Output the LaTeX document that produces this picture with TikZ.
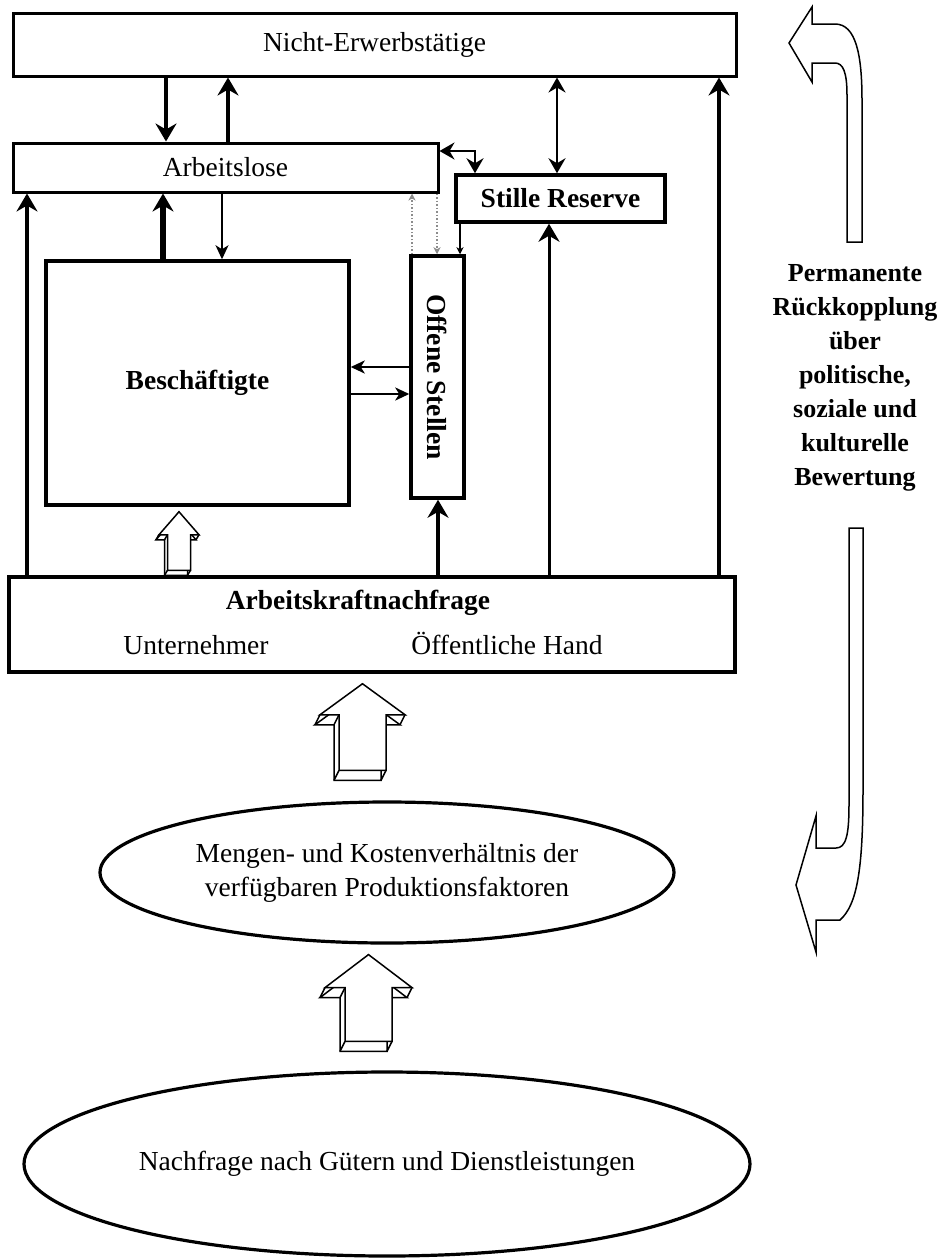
\documentclass[tikz,border=0pt]{standalone}
\usepackage{fontspec}
\setmainfont{Liberation Serif}
\usepackage{graphicx}
\usetikzlibrary{arrows.meta,calc,shapes.geometric}
\tikzset{
  bigtip/.tip={Stealth[length=18pt,width=21pt,inset=6pt]},
  midtip/.tip={Stealth[length=15pt,width=17pt,inset=5pt]},
  smalltip/.tip={Stealth[length=14pt,width=13pt,inset=4pt]},
  tinytip/.tip={Stealth[length=7pt,width=7pt,inset=2pt]}
}
% front face of a block arrow: #1 bottom, #2 tip, #3 half shaft, #4 half head, #5 head depth, #6 offset
\newcommand{\arrowface}[6]{($(#2)+(#6)$) -- ($(#2)+(#6)+(#4,#5)$) -- ($(#2)+(#6)+(#3,#5)$)
  -- ($(#1)+(#6)+(#3,0)$) -- ($(#1)+(#6)+(-#3,0)$) -- ($(#2)+(#6)+(-#3,#5)$) -- ($(#2)+(#6)+(-#4,#5)$) -- cycle}
\newcommand{\blockarrow}[6]{%
  \filldraw[fill=white,line width=1.5pt] \arrowface{#1}{#2}{#3}{#4}{#5}{#6};
  \draw[line width=1.5pt] (#2) -- ++(#6) ($(#2)+(#4,#5)$) -- ++(#6) ($(#2)+(#3,#5)$) -- ++(#6)
    ($(#2)+(-#3,#5)$) -- ++(#6) ($(#2)+(-#4,#5)$) -- ++(#6) ($(#1)+(#3,0)$) -- ++(#6) ($(#1)+(-#3,0)$) -- ++(#6);
  \filldraw[fill=white,line width=1.5pt] \arrowface{#1}{#2}{#3}{#4}{#5}{0,0};
}
\begin{document}
\begin{tikzpicture}[x=1pt,y=-1pt,
  every node/.style={align=center,font=\fontsize{27.5}{34}\selectfont},
  box/.style={draw,line width=3.5pt,inner sep=0pt},
  oval/.style={ellipse,draw,line width=3.2pt,inner sep=0pt},
  fat/.style={line width=4pt,-bigtip},
  mid/.style={line width=2.5pt},
  thin/.style={line width=1.8pt},
  dots/.style={line width=1.5pt,dotted,black!45}]
\useasboundingbox (0,0) rectangle (944,1259);
% Bestaende
\node[box,line width=3pt,minimum width=723pt,minimum height=63pt] (ne) at (374.5,44.5) {Nicht-Erwerbstätige};
\node[box,line width=3pt,minimum width=425pt,minimum height=49pt] (al) at (225.5,167.5) {Arbeitslose};
\node[box,minimum width=209pt,minimum height=47pt,font=\bfseries\fontsize{27.5}{34}\selectfont] (sr) at (560.5,198.5) {Stille Reserve};
\node[box,minimum width=303pt,minimum height=244pt,font=\bfseries\fontsize{27.5}{34}\selectfont] (be) at (197.5,383) {Beschäftigte};
\node[box,minimum width=53pt,minimum height=242pt] (os) at (437.5,377) {\rotatebox{-90}{\bfseries Offene Stellen}};
\node[box,minimum width=726pt,minimum height=95pt] (akn) at (372,624.5) {};
\node[font=\bfseries\fontsize{27.5}{34}\selectfont] (aknT) at (358,603) {Arbeitskraftnachfrage};
\node[anchor=base] (unt) at (196,654) {Unternehmer};
\node[anchor=base] (oeh) at (507,654) {Öffentliche Hand};
\node[oval,minimum width=574pt,minimum height=141pt] (mk) at (387,872.5) {Mengen- und Kostenverhältnis der\\verfügbaren Produktionsfaktoren};
\node[oval,minimum width=726pt,minimum height=184pt] (ng) at (387,1164) {Nachfrage nach Gütern und Dienstleistungen};
\node[font=\bfseries\fontsize{26}{34}\selectfont] (rk) at (855,378) {Permanente\\Rückkopplung\\über\\politische,\\soziale und\\kulturelle\\Bewertung};
% Stroeme
\draw[fat] (ne.south -| 166,0) -- (al.north -| 166,0);
\draw[fat] (al.north -| 228,0) -- (ne.south -| 228,0);
\draw[mid,midtip-midtip] (ne.south -| 557,0) -- (sr.north -| 557,0);
\draw[mid,midtip-midtip] (al.east |- 0,151) -| (sr.north -| 475,0);
\draw[thin,-tinytip] (sr.south -| 460,0) -- (os.north -| 460,0);
\draw[dots,-tinytip] (os.north -| 412,0) -- (al.south -| 412,0);
\draw[dots,-tinytip] (al.south -| 437,0) -- (os.north -| 437,0);
\draw[fat,line width=6pt] (be.north -| 163,0) -- (al.south -| 163,0);
\draw[thin,-smalltip] (al.south -| 222,0) -- (be.north -| 222,0);
\draw[mid,-smalltip] (os.west |- 0,367) -- (be.east |- 0,367);
\draw[mid,-smalltip] (be.east |- 0,394) -- (os.west |- 0,394);
\foreach \x/\n in {27/al,438/os,719/ne} \draw[fat] (akn.north -| \x,0) -- (\n.south -| \x,0);
\draw[fat,line width=3pt] (akn.north -| 549,0) -- (sr.south -| 549,0);
% Blockpfeile
\coordinate (t0) at ($(be.south -| 179,0)+(0,5)$);
\coordinate (b0) at ($(akn.north -| 179,0)+(0,-5)$);
\blockarrow{b0}{t0}{11.5}{20}{23}{-3,5}
\coordinate (t1) at ($(akn.south -| 362.5,0)+(0,10)$);
\coordinate (b1) at ($(mk.north -| 362.5,0)+(0,-30)$);
\blockarrow{b1}{t1}{23.5}{42.5}{31}{-5,10}
\coordinate (t2) at ($(mk.south -| 368.5,0)+(0,10)$);
\coordinate (b2) at ($(ng.north -| 368.5,0)+(0,-29)$);
\blockarrow{b2}{t2}{23.5}{43.5}{33}{-5,10}
% Rueckkopplung
\draw[line width=1.5pt] (847,242) -- (847,95) .. controls (847,72) and (843,63) .. (835,63) -- (812,63) -- (812,82)
  -- (789,43) -- (812,7) -- (812,24) -- (835,24) .. controls (856,24) and (862,55) .. (862,100) -- (862,242) -- cycle;
\draw[line width=1.5pt] (849,528) -- (849,805) .. controls (849,835) and (846,848) .. (836,848) -- (816,848) -- (816,816)
  -- (796,885) -- (816,952) -- (816,920) -- (840,920) .. controls (857,905) and (863,870) .. (863,790) -- (863,528) -- cycle;
\end{tikzpicture}
\end{document}
